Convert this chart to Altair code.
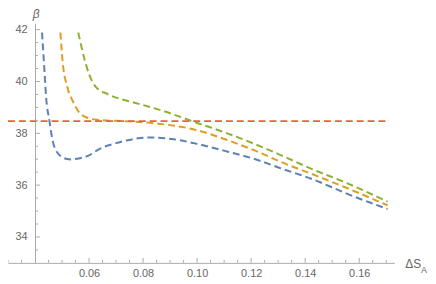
import altair as alt
import pandas as pd

# ---- data ----
series_names = ["a_blue", "b_orange", "c_green", "d_red"]
series_colors = ["#5E81B5", "#E19C24", "#8FB032", "#EB6235"]

blue_x = [0.0426, 0.0435, 0.0441, 0.0453, 0.0465, 0.0484, 0.0514, 0.0535, 0.0557, 0.0594,
          0.0643, 0.0704, 0.0765, 0.082, 0.0906, 0.0992, 0.1114, 0.1224, 0.1309, 0.1432,
          0.1554, 0.1705]
blue_y = [41.89, 40.4, 39.4, 38.5, 37.73, 37.24, 37.02, 36.99, 37.02, 37.12,
          37.42, 37.63, 37.78, 37.84, 37.78, 37.61, 37.29, 36.97, 36.65, 36.21,
          35.67, 35.08]

orange_x = [0.0494, 0.0502, 0.052, 0.0539, 0.0563, 0.0594, 0.063, 0.0747, 0.0857, 0.0992,
            0.1114, 0.1224, 0.1309, 0.1432, 0.1554, 0.1705]
orange_y = [41.89, 40.79, 39.77, 39.26, 38.81, 38.6, 38.52, 38.46, 38.37, 38.14,
            37.73, 37.29, 36.9, 36.4, 35.89, 35.22]

green_x = [0.056, 0.0582, 0.06, 0.0622, 0.0667, 0.0716, 0.0765, 0.0869, 0.0992, 0.1114,
           0.1224, 0.1309, 0.1432, 0.1554, 0.1705]
green_y = [41.89, 40.91, 40.28, 39.83, 39.52, 39.33, 39.19, 38.88, 38.43, 37.99,
           37.54, 37.16, 36.59, 36.08, 35.36]

red_x = [0.03, 0.171]
red_y = [38.47, 38.47]

x_major = [0.06, 0.08, 0.10, 0.12, 0.14, 0.16]
x_minor = [0.03, 0.035, 0.045, 0.05, 0.055, 0.065, 0.07, 0.075, 0.085, 0.09, 0.095,
           0.105, 0.11, 0.115, 0.125, 0.13, 0.135, 0.145, 0.15, 0.155, 0.165, 0.17]
y_major = [34, 36, 38, 40, 42]
y_minor = [33.5, 34.5, 35, 35.5, 36.5, 37, 37.5, 38.5, 39, 39.5, 40.5, 41, 41.5]

rows = []
for name, xs, ys in zip(series_names, [blue_x, orange_x, green_x, red_x],
                        [blue_y, orange_y, green_y, red_y]):
    for xv, yv in zip(xs, ys):
        rows.append({"series": name, "x": xv, "y": yv})
df = pd.DataFrame(rows)

FONT = "Liberation Sans"
AX = "#aaaaaa"
LAB = "#666666"

xscale = alt.Scale(domain=[0.03, 0.173], nice=False, zero=False)
yscale = alt.Scale(domain=[33, 42.25], nice=False, zero=False)

x_axis = alt.Axis(values=x_major, format=".2f", title=None, grid=False, tickSize=0,
                  labelPadding=5, labelFontSize=11, labelColor=LAB, labelFont=FONT,
                  domainColor=AX, domainWidth=1)
y_axis = alt.Axis(values=y_major, format="d", title=None, grid=False, tickSize=0,
                  labelPadding=8, offset=-27.27, labelFontSize=11, labelColor=LAB,
                  labelFont=FONT, domainColor=AX, domainWidth=1)

lines = alt.Chart(df).mark_line(strokeDash=[7, 4], strokeWidth=2, interpolate="monotone").encode(
    x=alt.X("x:Q", scale=xscale, axis=x_axis),
    y=alt.Y("y:Q", scale=yscale, axis=y_axis),
    color=alt.Color("series:N", scale=alt.Scale(domain=series_names, range=series_colors),
                    legend=None),
)

def xticks(vals, size):
    return alt.Chart(pd.DataFrame({"v": vals, "b": [33] * len(vals)})).mark_tick(
        orient="vertical", size=size, thickness=1, yOffset=-size / 2, color=AX, opacity=1
    ).encode(x=alt.X("v:Q", scale=xscale, axis=x_axis),
             y=alt.Y("b:Q", scale=yscale, axis=y_axis))

def yticks(vals, size):
    return alt.Chart(pd.DataFrame({"v": vals, "b": [0.04] * len(vals)})).mark_tick(
        orient="horizontal", size=size, thickness=1, xOffset=size / 2, color=AX, opacity=1
    ).encode(y=alt.Y("v:Q", scale=yscale, axis=y_axis),
             x=alt.X("b:Q", scale=xscale, axis=x_axis))

beta = alt.Chart(pd.DataFrame({"t": ["β"]})).mark_text(
    font=FONT, fontSize=12, fontStyle="italic", color=LAB, align="center", baseline="middle"
).encode(text="t:N", x=alt.value(28.5), y=alt.value(-9.5))

ds = alt.Chart(pd.DataFrame({"t": ["ΔS"]})).mark_text(
    font=FONT, fontSize=12, color=LAB, align="left", baseline="middle"
).encode(text="t:N", x=alt.value(401), y=alt.value(243))

sub = alt.Chart(pd.DataFrame({"t": ["A"]})).mark_text(
    font=FONT, fontSize=9, color=LAB, align="left", baseline="middle"
).encode(text="t:N", x=alt.value(417), y=alt.value(249))

chart = alt.layer(
    lines,
    xticks(x_major, 5), xticks(x_minor, 3),
    yticks(y_major, 5), yticks(y_minor, 3),
    beta, ds, sub,
).properties(
    width=390, height=242,
    padding={"left": 0, "top": 14, "right": 34, "bottom": 17},
    autosize="none",
).configure_view(stroke=None)

chart.save("out.html", embed_options={"renderer": "svg", "actions": False})
